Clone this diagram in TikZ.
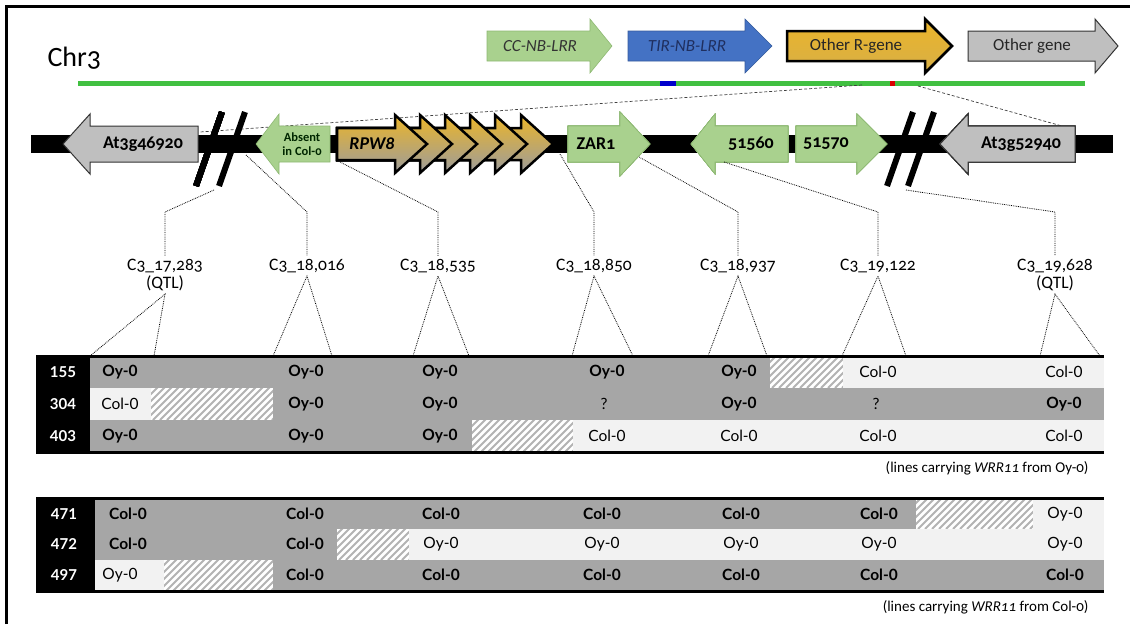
\documentclass[tikz,border=0pt]{standalone}
\usepackage{fontspec}
\setmainfont{Carlito}[Numbers=OldStyle]
\newfontfamily\tabfont{Lato}
\usepackage{tikz}
\usetikzlibrary{positioning}

\definecolor{chrgreen}{HTML}{41C041}
\definecolor{nbgreen}{HTML}{A9D18E}
\definecolor{nbedge}{HTML}{8DB872}
\definecolor{tirblue}{HTML}{4472C4}
\definecolor{tirtext}{HTML}{1F2F5F}
\definecolor{goldtop}{HTML}{EBB52A}
\definecolor{goldbot}{HTML}{9C9C9C}
\definecolor{genegray}{HTML}{BFBFBF}
\definecolor{cellgray}{HTML}{A6A6A6}
\definecolor{celllight}{HTML}{F2F2F2}

% gene arrow: [style]{x start}{x head base}{x tip}{y centre}{body half}{head half}
\newcommand{\genearrow}[7][]{%
  \draw[#1] ({#2},{#5-#6}) -- ({#3},{#5-#6}) -- ({#3},{#5-#7}) -- ({#4},{#5})
    -- ({#3},{#5+#7}) -- ({#3},{#5+#6}) -- ({#2},{#5+#6}) -- cycle;}
% hatched cell: {x1}{y top}{x2}{y bottom}
\newcommand{\hatchcell}[4]{%
  \begin{scope}
    \clip (#1,#2) rectangle (#3,#4);
    \fill[white] (#1,#2) rectangle (#3,#4);
    \foreach \k in {0,7,...,170}
      \draw[hatchline] ({#1+\k-40},#4) -- ++(40,-40);
  \end{scope}}

\begin{document}
\begin{tikzpicture}[
    x=1pt, y=-1pt,
    chrline/.style={line width=5pt, chrgreen},
    zoomline/.style={densely dashed, line width=0.7pt, black!75},
    dotline/.style={densely dotted, line width=0.8pt},
    nbgene/.style={fill=nbgreen, draw=nbedge, line width=0.6pt},
    tirgene/.style={fill=tirblue, draw=tirblue!80!black, line width=0.6pt},
    rgene/.style={draw=black, line width=2.5pt, top color=goldtop, bottom color=goldbot},
    rlegend/.style={draw=black, line width=2.5pt, top color=goldtop, bottom color=goldtop!75!goldbot},
    othergene/.style={fill=genegray, draw=black!80, line width=1pt},
    breakmark/.style={line width=6pt},
    hatchline/.style={line width=2pt, cellgray!85},
    legendtxt/.style={font=\fontsize{17}{19}\selectfont},
    genetxt/.style={font=\fontsize{18}{19}\selectfont\bfseries},
    numtxt/.style={font=\fontsize{18}{19}\selectfont\bfseries},
    marker/.style={font=\fontsize{17.5}{18}\selectfont, align=center, inner sep=3pt},
    rowid/.style={font=\tabfont\bfseries\fontsize{15}{16}\selectfont, white},
    cellb/.style={font=\tabfont\bfseries\fontsize{15.5}{16}\selectfont},
    cellr/.style={font=\tabfont\fontsize{15.5}{16}\selectfont},
    tabrule/.style={line width=3pt},
    caption/.style={font=\fontsize{15}{16}\selectfont, anchor=east}
  ]
  \useasboundingbox (0,0) rectangle (1130,624);
  \draw[line width=3pt] (6,624) -- (6,6) -- (1130,6);

  % legend
  \genearrow[nbgene]{487}{590}{612}{46}{15}{27}
  \genearrow[tirgene]{628}{745}{772}{46}{15}{27}
  \genearrow[rlegend]{787}{925}{952}{46}{15}{27}
  \genearrow[othergene]{968}{1095}{1118}{46}{15}{27}
  \node[legendtxt, font=\fontsize{17}{19}\selectfont\itshape, text=black!80] (ccnb) at (540,46) {CC-NB-LRR};
  \node[legendtxt, font=\fontsize{17}{19}\selectfont\itshape, text=tirtext] (tirnb) at (687,46) {TIR-NB-LRR};
  \node[legendtxt, text=black!85] (otherr) at (856,46) {Other R-gene};
  \node[legendtxt, text=black!85] (otherg) at (1032,46) {Other gene};

  % chromosome
  \node[font=\fontsize{28}{30}\selectfont, anchor=west] (chr) at (44,58) {Chr3};
  \coordinate (chrL) at (78,83);
  \coordinate (chrR) at (1085,83);
  \draw[chrline] (chrL) -- (chrR);
  \draw[line width=5pt, blue!80!black] (660,83) -- (676,83);
  \draw[line width=5pt, red!85!black] (890,83) -- (895,83);
  \coordinate (zoomA) at (862,85);
  \coordinate (zoomB) at (918,86);
  \coordinate (zoomAend) at (200,132);
  \coordinate (zoomBend) at (1062,126);
  \draw[zoomline] (zoomA) -- (zoomAend);
  \draw[zoomline] (zoomB) -- (zoomBend);

  % region
  \coordinate (barL) at (31,144);
  \coordinate (barR) at (1113,144);
  \draw[line width=18pt] (barL) -- (barR);
  \genearrow[othergene]{198}{90}{63}{144}{18}{30}
  \genearrow[nbgene]{330}{279}{256}{144}{18}{30}
  \foreach \t in {553,527,502,477,452,427}
    \genearrow[rgene]{337}{\t-32}{\t}{144}{16}{29}
  \genearrow[nbgene]{568}{620}{650}{144}{18}{32}
  \genearrow[nbgene]{788}{715}{691}{144}{18}{30}
  \genearrow[nbgene]{796}{857}{887}{144}{18}{30}
  \genearrow[othergene]{1075}{968}{940}{144}{18}{30}
  \draw[breakmark] (196,186) -- (222,112);
  \draw[breakmark] (219,186) -- (245,112);
  \draw[breakmark] (887,186) -- (913,112);
  \draw[breakmark] (908,186) -- (934,112);

  \node[genetxt] (at46920) at (143,144) {At3g46920};
  \node[font=\fontsize{12.5}{13.5}\selectfont\bfseries, align=center, text=black!85!green, inner sep=0pt] (absent) at (302,144) {Absent\\in Col-0};
  \node[genetxt, font=\fontsize{18}{19}\selectfont\bfseries\itshape] (rpw8) at (372,144) {RPW8};
  \node[numtxt] (zar1) at (596,144) {ZAR1};
  \node[numtxt] (g51560) at (751,144) {51560};
  \node[numtxt] (g51570) at (826,144) {51570};
  \node[genetxt] (at52940) at (1021,144) {At3g52940};

  % markers
  \node[marker] (m1) at (165,275) {C3\_17,283\\(QTL)};
  \node[marker] (m2) at (307,266) {C3\_18,016};
  \node[marker] (m3) at (438,266) {C3\_18,535};
  \node[marker] (m4) at (594,266) {C3\_18,850};
  \node[marker] (m5) at (738,266) {C3\_18,937};
  \node[marker] (m6) at (878,266) {C3\_19,122};
  \node[marker] (m7) at (1055,275) {C3\_19,628\\(QTL)};

  \coordinate (bendy) at (0,212);
  \coordinate (f1) at (214,190);
  \coordinate (f2) at (246,155);
  \coordinate (f3) at (340,162);
  \coordinate (f4) at (560,154);
  \coordinate (f5) at (639,157);
  \coordinate (f6) at (724,162);
  \coordinate (f7) at (906,190);
  \foreach \i in {1,...,7}
    \draw[dotline] (f\i) -- (m\i.north |- bendy) -- (m\i.north);

  % marker spans on the tables
  \foreach \i/\a/\b in {1/90/154, 2/273/332, 3/413/469, 4/572/633, 5/708/767, 6/842/906, 7/1040/1100}
    \draw[dotline] (\a,356) -- (m\i.south) -- (\b,356);

  % lines carrying WRR11 from Oy-0
  \fill[cellgray] (90,356) rectangle (770,388);
  \hatchcell{770}{356}{843}{388}
  \fill[celllight] (843,356) rectangle (1104,388);
  \fill[celllight] (90,388) rectangle (151,420);
  \hatchcell{151}{388}{273}{420}
  \fill[cellgray] (273,388) rectangle (1104,420);
  \fill[cellgray] (90,420) rectangle (472,452);
  \hatchcell{472}{420}{573}{452}
  \fill[celllight] (573,420) rectangle (1104,452);
  \fill (36,356) rectangle (90,452);
  \draw[tabrule] (36,356) -- (1104,356);
  \draw[tabrule] (36,452) -- (1104,452);
  \node[rowid] (id155) at (63,372) {155};
  \node[rowid] (id304) at (63,404) {304};
  \node[rowid] (id403) at (63,436) {403};
  \foreach \x/\t/\s [count=\i] in {120/Oy-0/b, 306/Oy-0/b, 440/Oy-0/b, 607/Oy-0/b, 739/Oy-0/b, 878/Col-0/r, 1064/Col-0/r}
    \node[cell\s] (a\i) at (\x,372) {\t};
  \foreach \x/\t/\s [count=\i] in {120/Col-0/r, 306/Oy-0/b, 440/Oy-0/b, 604/?/r, 739/Oy-0/b, 876/?/r, 1064/Oy-0/b}
    \node[cell\s] (b\i) at (\x,404) {\t};
  \foreach \x/\t/\s [count=\i] in {120/Oy-0/b, 306/Oy-0/b, 440/Oy-0/b, 607/Col-0/r, 739/Col-0/r, 878/Col-0/r, 1064/Col-0/r}
    \node[cell\s] (c\i) at (\x,436) {\t};
  \node[caption] (cap1) at (1092,468) {(lines carrying \textit{WRR11} from Oy-0)};

  % lines carrying WRR11 from Col-0
  \fill[cellgray] (95,498) rectangle (916,529);
  \hatchcell{916}{498}{1033}{529}
  \fill[celllight] (1033,498) rectangle (1104,529);
  \fill[cellgray] (95,529) rectangle (337,560);
  \hatchcell{337}{529}{409}{560}
  \fill[celllight] (409,529) rectangle (1104,560);
  \fill[celllight] (95,560) rectangle (164,591);
  \hatchcell{164}{560}{273}{591}
  \fill[cellgray] (273,560) rectangle (1104,591);
  \fill (36,498) rectangle (95,591);
  \draw[tabrule] (36,498) -- (1104,498);
  \draw[tabrule] (36,591) -- (1104,591);
  \node[rowid] (id471) at (64,514) {471};
  \node[rowid] (id472) at (64,544) {472};
  \node[rowid] (id497) at (64,575) {497};
  \foreach \x/\t/\s [count=\i] in {128/Col-0/b, 305/Col-0/b, 441/Col-0/b, 602/Col-0/b, 741/Col-0/b, 879/Col-0/b, 1065/Oy-0/r}
    \node[cell\s] (d\i) at (\x,514) {\t};
  \foreach \x/\t/\s [count=\i] in {128/Col-0/b, 305/Col-0/b, 441/Oy-0/r, 602/Oy-0/r, 741/Oy-0/r, 879/Oy-0/r, 1065/Oy-0/r}
    \node[cell\s] (e\i) at (\x,544) {\t};
  \foreach \x/\t/\s [count=\i] in {120/Oy-0/r, 305/Col-0/b, 441/Col-0/b, 602/Col-0/b, 741/Col-0/b, 879/Col-0/b, 1065/Col-0/b}
    \node[cell\s] (g\i) at (\x,575) {\t};
  \node[caption] (cap2) at (1092,607) {(lines carrying \textit{WRR11} from Col-0)};
\end{tikzpicture}
\end{document}
